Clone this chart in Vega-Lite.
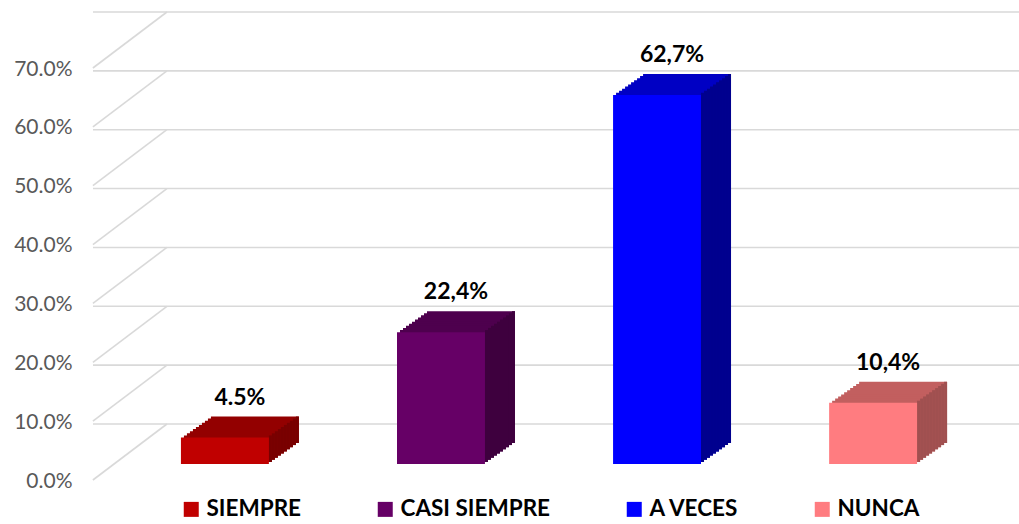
{
  "$schema": "https://vega.github.io/schema/vega-lite/v6.json",
  "autosize": {"type": "none"},
  "width": 912,
  "height": 412,
  "padding": {"left": 93, "top": 52, "right": 14, "bottom": 60},
  "background": "white",
  "config": {"view": {"stroke": null}, "font": "Lato"},
  "data": {"values": [
    {"cat": "SIEMPRE", "value": 0.045, "label": "4.5%"},
    {"cat": "CASI SIEMPRE", "value": 0.224, "label": "22,4%"},
    {"cat": "A VECES", "value": 0.627, "label": "62,7%"},
    {"cat": "NUNCA", "value": 0.104, "label": "10,4%"}
  ]},
  "encoding": {
    "x": {"field": "cat", "type": "nominal", "sort": null,
      "scale": {"paddingInner": 0.593, "paddingOuter": 0.407},
      "axis": null},
    "y": {"field": "value", "type": "quantitative",
      "scale": {"domain": [0, 0.7], "nice": false},
      "axis": {"values": [0, 0.1, 0.2, 0.3, 0.4, 0.5, 0.6, 0.7], "format": ".1%", "domain": false, "ticks": false, "grid": false, "labelPadding": 21, "labelOffset": 17, "labelFont": "Lato", "labelFontSize": 21, "labelColor": "#595959", "title": null}}
  },
  "layer": [
    {
      "data": {"values": [{"v": 0}, {"v": 0.1}, {"v": 0.2}, {"v": 0.3}, {"v": 0.4}, {"v": 0.5}, {"v": 0.6}, {"v": 0.7}]},
      "mark": {"type": "rule", "color": "#D9D9D9", "strokeWidth": 1.6, "xOffset": 74, "x2Offset": 14, "yOffset": -40},
      "encoding": {"x": null, "y": {"field": "v", "type": "quantitative"}}
    },
    {
      "data": {"values": [{"v": 0}, {"v": 0.1}, {"v": 0.2}, {"v": 0.3}, {"v": 0.4}, {"v": 0.5}, {"v": 0.6}, {"v": 0.7}]},
      "mark": {"type": "rule", "color": "#D9D9D9", "strokeWidth": 1.6, "xOffset": -132, "x2Offset": -58, "yOffset": 16, "y2Offset": -40},
      "encoding": {
        "x": {"datum": "SIEMPRE"},
        "x2": {"datum": "SIEMPRE"},
        "y": {"field": "v", "type": "quantitative"},
        "y2": {"field": "v"}
      }
    },
    {"mark": {"type": "bar", "xOffset": 30, "yOffset": -21}, "encoding": {"color": {"field": "cat", "type": "nominal", "scale": {"domain": ["SIEMPRE", "CASI SIEMPRE", "A VECES", "NUNCA"], "range": ["#930000", "#4E004E", "#0000C4", "#C25F5F"]}, "legend": null}}},
    {"mark": {"type": "bar", "xOffset": 27, "yOffset": -18.9}, "encoding": {"color": {"field": "cat", "type": "nominal", "scale": {"domain": ["SIEMPRE", "CASI SIEMPRE", "A VECES", "NUNCA"], "range": ["#930000", "#4E004E", "#0000C4", "#C25F5F"]}, "legend": null}}},
    {"mark": {"type": "bar", "xOffset": 24, "yOffset": -16.8}, "encoding": {"color": {"field": "cat", "type": "nominal", "scale": {"domain": ["SIEMPRE", "CASI SIEMPRE", "A VECES", "NUNCA"], "range": ["#930000", "#4E004E", "#0000C4", "#C25F5F"]}, "legend": null}}},
    {"mark": {"type": "bar", "xOffset": 21, "yOffset": -14.7}, "encoding": {"color": {"field": "cat", "type": "nominal", "scale": {"domain": ["SIEMPRE", "CASI SIEMPRE", "A VECES", "NUNCA"], "range": ["#930000", "#4E004E", "#0000C4", "#C25F5F"]}, "legend": null}}},
    {"mark": {"type": "bar", "xOffset": 18, "yOffset": -12.6}, "encoding": {"color": {"field": "cat", "type": "nominal", "scale": {"domain": ["SIEMPRE", "CASI SIEMPRE", "A VECES", "NUNCA"], "range": ["#930000", "#4E004E", "#0000C4", "#C25F5F"]}, "legend": null}}},
    {"mark": {"type": "bar", "xOffset": 15, "yOffset": -10.5}, "encoding": {"color": {"field": "cat", "type": "nominal", "scale": {"domain": ["SIEMPRE", "CASI SIEMPRE", "A VECES", "NUNCA"], "range": ["#930000", "#4E004E", "#0000C4", "#C25F5F"]}, "legend": null}}},
    {"mark": {"type": "bar", "xOffset": 12, "yOffset": -8.4}, "encoding": {"color": {"field": "cat", "type": "nominal", "scale": {"domain": ["SIEMPRE", "CASI SIEMPRE", "A VECES", "NUNCA"], "range": ["#930000", "#4E004E", "#0000C4", "#C25F5F"]}, "legend": null}}},
    {"mark": {"type": "bar", "xOffset": 9, "yOffset": -6.3}, "encoding": {"color": {"field": "cat", "type": "nominal", "scale": {"domain": ["SIEMPRE", "CASI SIEMPRE", "A VECES", "NUNCA"], "range": ["#930000", "#4E004E", "#0000C4", "#C25F5F"]}, "legend": null}}},
    {"mark": {"type": "bar", "xOffset": 6, "yOffset": -4.2}, "encoding": {"color": {"field": "cat", "type": "nominal", "scale": {"domain": ["SIEMPRE", "CASI SIEMPRE", "A VECES", "NUNCA"], "range": ["#930000", "#4E004E", "#0000C4", "#C25F5F"]}, "legend": null}}},
    {"mark": {"type": "bar", "xOffset": 3, "yOffset": -2.1}, "encoding": {"color": {"field": "cat", "type": "nominal", "scale": {"domain": ["SIEMPRE", "CASI SIEMPRE", "A VECES", "NUNCA"], "range": ["#930000", "#4E004E", "#0000C4", "#C25F5F"]}, "legend": null}}},
    {"mark": {"type": "bar", "width": 3, "xOffset": 45.5, "yOffset": -2.1}, "encoding": {"color": {"field": "cat", "type": "nominal", "scale": {"domain": ["SIEMPRE", "CASI SIEMPRE", "A VECES", "NUNCA"], "range": ["#780000", "#3E003E", "#00008E", "#A05050"]}, "legend": null}}},
    {"mark": {"type": "bar", "width": 3, "xOffset": 48.5, "yOffset": -4.2}, "encoding": {"color": {"field": "cat", "type": "nominal", "scale": {"domain": ["SIEMPRE", "CASI SIEMPRE", "A VECES", "NUNCA"], "range": ["#780000", "#3E003E", "#00008E", "#A05050"]}, "legend": null}}},
    {"mark": {"type": "bar", "width": 3, "xOffset": 51.5, "yOffset": -6.3}, "encoding": {"color": {"field": "cat", "type": "nominal", "scale": {"domain": ["SIEMPRE", "CASI SIEMPRE", "A VECES", "NUNCA"], "range": ["#780000", "#3E003E", "#00008E", "#A05050"]}, "legend": null}}},
    {"mark": {"type": "bar", "width": 3, "xOffset": 54.5, "yOffset": -8.4}, "encoding": {"color": {"field": "cat", "type": "nominal", "scale": {"domain": ["SIEMPRE", "CASI SIEMPRE", "A VECES", "NUNCA"], "range": ["#780000", "#3E003E", "#00008E", "#A05050"]}, "legend": null}}},
    {"mark": {"type": "bar", "width": 3, "xOffset": 57.5, "yOffset": -10.5}, "encoding": {"color": {"field": "cat", "type": "nominal", "scale": {"domain": ["SIEMPRE", "CASI SIEMPRE", "A VECES", "NUNCA"], "range": ["#780000", "#3E003E", "#00008E", "#A05050"]}, "legend": null}}},
    {"mark": {"type": "bar", "width": 3, "xOffset": 60.5, "yOffset": -12.6}, "encoding": {"color": {"field": "cat", "type": "nominal", "scale": {"domain": ["SIEMPRE", "CASI SIEMPRE", "A VECES", "NUNCA"], "range": ["#780000", "#3E003E", "#00008E", "#A05050"]}, "legend": null}}},
    {"mark": {"type": "bar", "width": 3, "xOffset": 63.5, "yOffset": -14.7}, "encoding": {"color": {"field": "cat", "type": "nominal", "scale": {"domain": ["SIEMPRE", "CASI SIEMPRE", "A VECES", "NUNCA"], "range": ["#780000", "#3E003E", "#00008E", "#A05050"]}, "legend": null}}},
    {"mark": {"type": "bar", "width": 3, "xOffset": 66.5, "yOffset": -16.8}, "encoding": {"color": {"field": "cat", "type": "nominal", "scale": {"domain": ["SIEMPRE", "CASI SIEMPRE", "A VECES", "NUNCA"], "range": ["#780000", "#3E003E", "#00008E", "#A05050"]}, "legend": null}}},
    {"mark": {"type": "bar", "width": 3, "xOffset": 69.5, "yOffset": -18.9}, "encoding": {"color": {"field": "cat", "type": "nominal", "scale": {"domain": ["SIEMPRE", "CASI SIEMPRE", "A VECES", "NUNCA"], "range": ["#780000", "#3E003E", "#00008E", "#A05050"]}, "legend": null}}},
    {"mark": {"type": "bar", "width": 3, "xOffset": 72.5, "yOffset": -21}, "encoding": {"color": {"field": "cat", "type": "nominal", "scale": {"domain": ["SIEMPRE", "CASI SIEMPRE", "A VECES", "NUNCA"], "range": ["#780000", "#3E003E", "#00008E", "#A05050"]}, "legend": null}}},
    {
      "mark": {"type": "bar"},
      "encoding": {"color": {"field": "cat", "type": "nominal",
        "scale": {"domain": ["SIEMPRE", "CASI SIEMPRE", "A VECES", "NUNCA"], "range": ["#C00000", "#660066", "#0000FF", "#FF7C80"]},
        "legend": {"orient": "none", "legendX": 87, "legendY": 446, "direction": "horizontal", "title": null, "symbolType": "square", "symbolSize": 225, "symbolStrokeWidth": 0, "labelFont": "Lato", "labelFontSize": 22.5, "labelFontWeight": "bold", "labelColor": "#000000", "labelOffset": 4, "columnPadding": 72, "labelLimit": 400, "padding": 0}}}
    },
    {
      "mark": {"type": "text", "dx": 15, "dy": -33, "baseline": "alphabetic", "align": "center", "font": "Lato", "fontSize": 23, "fontWeight": "bold", "color": "#000000"},
      "encoding": {"text": {"field": "label"}}
    }
  ],
  "resolve": {"scale": {"color": "independent"}}
}
